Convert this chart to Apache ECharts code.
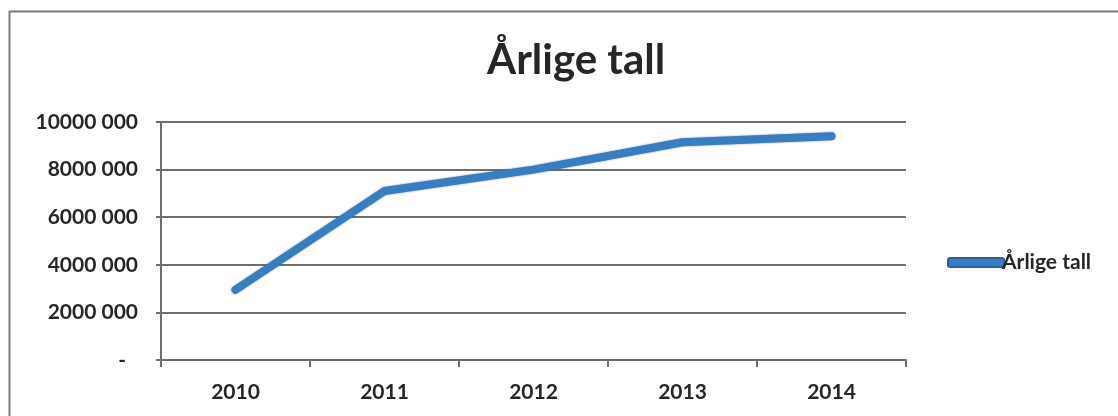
<!DOCTYPE html>
<html>
<head>
<meta charset="utf-8">
<script src="https://cdn.jsdelivr.net/npm/echarts@6/dist/echarts.min.js"></script>
<style>
html,body{margin:0;padding:0;background:#fff;}
#c{width:1118px;height:416px;}
</style>
</head>
<body>
<div id="c"></div>
<script>
const title = 'Årlige tall';
const seriesName = 'Årlige tall';
const categories = ['2010', '2011', '2012', '2013', '2014'];
const values = [2950000, 7100000, 8000000, 9150000, 9400000];
const yTicks = [0, 2000000, 4000000, 6000000, 8000000, 10000000];

function fmt(v) {
  if (v === 0) return '{d|-}';
  const s = String(v);
  return s.slice(0, s.length - 3) + ' ' + s.slice(-3);
}

const chart = echarts.init(document.getElementById('c'), null, {renderer: 'canvas'});
const font = 'Lato, "Open Sans", sans-serif';
chart.setOption({
  backgroundColor: '#fff',
  animation: false,
  graphic: [{
    type: 'rect', left: 7, top: 9, z: -1,
    shape: {width: 1130, height: 430},
    style: {fill: 'none', stroke: '#7a7a7a', lineWidth: 2}
  }],
  title: {
    text: title, left: 482, top: 34,
    textStyle: {fontFamily: font, fontWeight: 'bold', fontSize: 42, color: '#262626'}
  },
  legend: {
    data: [seriesName], orient: 'vertical', left: 942, top: 247,
    itemWidth: 56, itemHeight: 9, itemGap: 0,
    icon: 'roundRect',
    textStyle: {fontFamily: font, fontWeight: 'bold', fontSize: 21, color: '#262626', padding: [0,0,0,-7]}
  },
  grid: {left: 161, right: 212, top: 122, bottom: 56},
  xAxis: {
    type: 'category', data: categories, boundaryGap: true,
    axisLine: {lineStyle: {color: '#6f6f6f', width: 2}},
    axisTick: {show: true, length: 7, lineStyle: {color: '#6f6f6f', width: 2}},
    axisLabel: {fontFamily: font, fontWeight: 'bold', fontSize: 21, color: '#262626', margin: 22}
  },
  yAxis: {
    type: 'value', min: 0, max: 10000000, interval: 2000000,
    axisLine: {show: true, lineStyle: {color: '#6f6f6f', width: 2}},
    axisTick: {show: true, length: 5, lineStyle: {color: '#6f6f6f', width: 2}},
    splitLine: {lineStyle: {color: '#6f6f6f', width: 2}},
    axisLabel: {fontFamily: font, fontWeight: 'bold', fontSize: 21, color: '#262626', margin: 23,
      formatter: fmt,
      rich: {d: {fontFamily: font, fontWeight: 'bold', fontSize: 21, color: '#262626', padding: [0, 12, 0, 0]}}}
  },
  series: [{
    name: seriesName, type: 'line', data: values,
    symbol: 'none',
    lineStyle: {color: '#377dbf', width: 8, cap: 'round', join: 'round',
      shadowColor: 'rgba(30,70,120,0.6)', shadowBlur: 2},
    itemStyle: {color: '#377dbf', borderColor: '#2a5f9a', borderWidth: 1}
  }]
});
</script>
</body>
</html>
